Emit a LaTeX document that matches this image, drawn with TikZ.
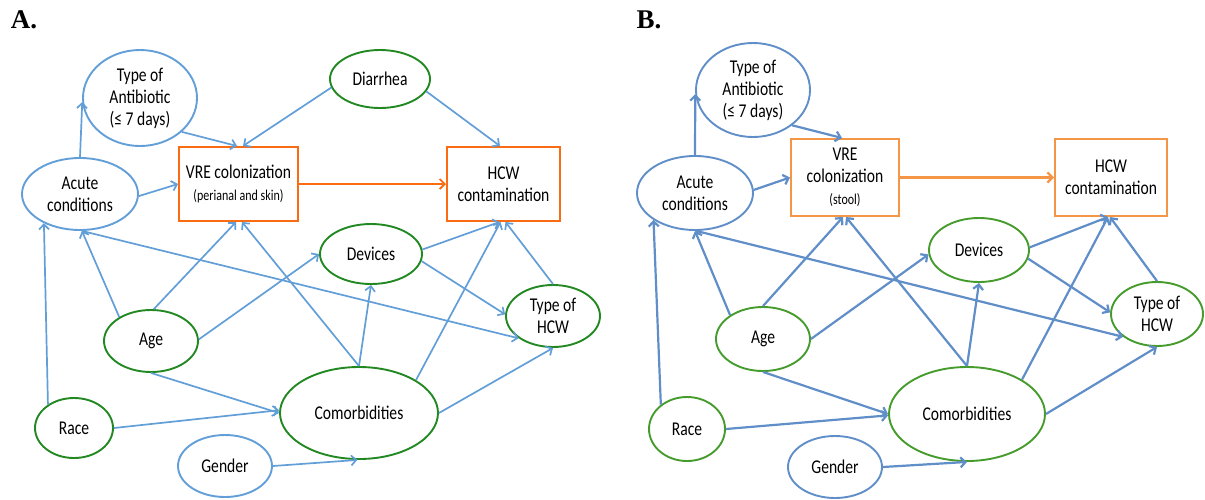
\documentclass[tikz,border=0pt]{standalone}
\usepackage{fontspec}
\setmainfont{Carlito}[FakeStretch=0.8]
\newfontfamily\panelfont{Liberation Serif}
\usetikzlibrary{shapes.geometric,arrows.meta}
\definecolor{blueA}{RGB}{98,158,215}
\definecolor{greenA}{RGB}{34,136,34}
\definecolor{orangeA}{RGB}{250,108,20}
\definecolor{blueB}{RGB}{96,142,200}
\definecolor{greenB}{RGB}{70,155,45}
\definecolor{orangeB}{RGB}{245,150,70}
\newcommand{\lbl}{\fontsize{19.5}{22}\selectfont}
\newcommand{\smlbl}{\fontsize{15}{17}\selectfont}
\tikzset{
  nodebase/.style={inner sep=0pt, align=center, font=\lbl, text=black},
  ellA/.style={nodebase, ellipse, draw=blueA, line width=1.9pt},
  ellgA/.style={nodebase, ellipse, draw=greenA, line width=1.9pt},
  boxA/.style={nodebase, rectangle, draw=orangeA, line width=2pt},
  ellB/.style={nodebase, ellipse, draw=blueB, line width=1.9pt},
  ellgB/.style={nodebase, ellipse, draw=greenB, line width=1.9pt},
  boxB/.style={nodebase, rectangle, draw=orangeB, line width=2pt},
  arrA/.style={draw=blueA, line width=1.7pt, -{Straight Barb[length=5pt,width=10pt]}},
  arrB/.style={draw=blueB, line width=2.2pt, -{Straight Barb[length=5pt,width=10pt]}},
  oarrA/.style={draw=orangeA, line width=1.9pt, -{Straight Barb[length=5pt,width=10pt]}},
  oarrB/.style={draw=orangeB, line width=2.2pt, -{Straight Barb[length=5pt,width=10pt]}},
  panel/.style={font=\panelfont\bfseries\fontsize{27}{30}\selectfont, inner sep=0pt}
}
\begin{document}
\begin{tikzpicture}[x=1pt,y=-1pt]
\useasboundingbox (0,0) rectangle (1205,499);
% ---------- Panel A ----------
\node[panel] (labA) at (24,20) {A.};
\node[ellA, minimum width=114pt, minimum height=96pt] (anti) at (140,98) {Type of\\Antibiotic\\(≤ 7 days)};
\node[ellA, minimum width=116pt, minimum height=72pt] (acute) at (80,194) {Acute\\conditions};
\node[boxA, minimum width=119pt, minimum height=74pt] (vre) at (238.5,184) {VRE colonization\\{\smlbl (perianal and skin)}};
\node[boxA, minimum width=113pt, minimum height=74pt] (hcw) at (503.5,184) {HCW\\contamination};
\node[ellgA, minimum width=100pt, minimum height=58pt] (diar) at (380,79) {Diarrhea};
\node[ellgA, minimum width=102pt, minimum height=60pt] (dev) at (371,254) {Devices};
\node[ellgA, minimum width=94pt, minimum height=62pt] (thcw) at (553,316) {Type of\\HCW};
\node[ellgA, minimum width=94pt, minimum height=62pt] (age) at (151,341) {Age};
\node[ellgA, minimum width=158pt, minimum height=92pt] (comor) at (359,413) {Comorbidities};
\node[ellgA, minimum width=78pt, minimum height=60pt] (race) at (74,428) {Race};
\node[ellA, minimum width=94pt, minimum height=62pt] (gender) at (225,466) {Gender};

\draw[arrA] (acute.north) -- (anti.184);
\draw[arrA] (anti.-39) -- ([xshift=-1.5pt]vre.north);
\draw[arrA] (diar.190) -- ([xshift=4.5pt]vre.north);
\draw[arrA] (diar.-15) -- ([xshift=-3.5pt]hcw.north);
\draw[arrA] (acute.-2) -- (vre.west);
\draw[oarrA] (vre.east) -- (hcw.west);
\draw[arrA] (race.138) -- (acute.219);
\draw[arrA] (age.143) -- (acute.-87);
\draw[arrA] (age.85) -- ([xshift=-2.5pt]vre.south);
\draw[arrA] (comor.north) -- ([xshift=3.5pt]vre.south);
\draw[arrA] (comor.north) -- (dev.south);
\draw[arrA] (comor.30) -- ([xshift=-3pt]hcw.south);
\draw[arrA] (dev.5) -- ([xshift=-4pt]hcw.south);
\draw[arrA] (thcw.north) -- ([xshift=2pt]hcw.south);
\draw[arrA] (dev.-8) -- (thcw.178);
\draw[arrA] (acute.-87) -- (thcw.213);
\draw[arrA] (age.2) -- (dev.west);
\draw[arrA] (age.south) -- (comor.180);
\draw[arrA] (race.east) -- (comor.178);
\draw[arrA] (gender.east) -- (comor.-92);
\draw[arrA] (comor.east) -- (thcw.south);

% ---------- Panel B ----------
\node[panel] (labB) at (649,20) {B.};
\node[ellB, minimum width=114pt, minimum height=94pt] (antiB) at (753,90) {Type of\\Antibiotic\\(≤ 7 days)};
\node[ellB, minimum width=116pt, minimum height=74pt] (acuteB) at (695,193) {Acute\\conditions};
\node[boxB, minimum width=108pt, minimum height=77pt] (vreB) at (845,177.5) {VRE\\colonization\\{\smlbl (stool)}};
\node[boxB, minimum width=112pt, minimum height=77pt] (hcwB) at (1111,177.5) {HCW\\contamination};
\node[ellgB, minimum width=100pt, minimum height=64pt] (devB) at (979,250) {Devices};
\node[ellgB, minimum width=92pt, minimum height=64pt] (thcwB) at (1157,314) {Type of\\HCW};
\node[ellgB, minimum width=94pt, minimum height=64pt] (ageB) at (763,339) {Age};
\node[ellgB, minimum width=156pt, minimum height=94pt] (comorB) at (967,414) {Comorbidities};
\node[ellgB, minimum width=76pt, minimum height=64pt] (raceB) at (687,429) {Race};
\node[ellB, minimum width=94pt, minimum height=62pt] (genderB) at (835,467) {Gender};

\draw[arrB] (acuteB.north) -- (antiB.184);
\draw[arrB] (antiB.-42) -- ([xshift=-3pt]vreB.north);
\draw[arrB] (acuteB.3) -- (vreB.west);
\draw[oarrB] (vreB.east) -- (hcwB.west);
\draw[arrB] (raceB.137) -- (acuteB.213);
\draw[arrB] (ageB.144) -- (acuteB.-90);
\draw[arrB] (acuteB.-88) -- (thcwB.214);
\draw[arrB] (ageB.north) -- ([xshift=-2pt]vreB.south);
\draw[arrB] (comorB.north) -- ([xshift=1pt]vreB.south);
\draw[arrB] (comorB.north) -- (devB.south);
\draw[arrB] (comorB.32) -- ([xshift=-3pt]hcwB.south);
\draw[arrB] (devB.3) -- ([xshift=-3pt]hcwB.south);
\draw[arrB] (thcwB.north) -- ([xshift=-1pt]hcwB.south);
\draw[arrB] (devB.-10) -- (thcwB.178);
\draw[arrB] (ageB.east) -- (devB.185);
\draw[arrB] (ageB.south) -- (comorB.west);
\draw[arrB] (raceB.east) -- (comorB.181);
\draw[arrB] (genderB.east) -- (comorB.south);
\draw[arrB] (comorB.east) -- (thcwB.south);
\end{tikzpicture}
\end{document}
